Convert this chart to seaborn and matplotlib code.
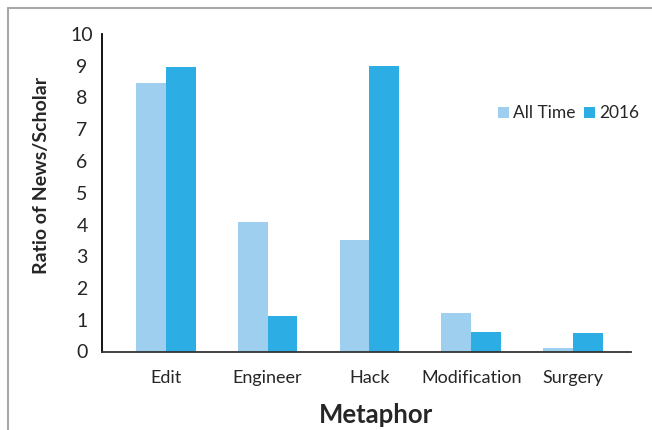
import pandas as pd
import matplotlib.pyplot as plt
import seaborn as sns
from matplotlib.lines import Line2D

# datos
categories = ['Edit', 'Engineer', 'Hack', 'Modification', 'Surgery']
all_time = [8.45, 4.08, 3.5, 1.2, 0.12]
y2016 = [8.95, 1.12, 8.98, 0.6, 0.57]
series = ['All Time', '2016']

df = pd.DataFrame({'Metaphor': categories * 2,
                   'Ratio': all_time + y2016,
                   'Serie': [series[0]] * 5 + [series[1]] * 5})

sns.set_style("white")
plt.rcParams['font.family'] = ['Lato', 'DejaVu Sans']

fig = plt.figure(figsize=(6.52, 4.30), dpi=100)
ax = fig.add_axes([102 / 652, 1 - 351.5 / 430, (630.7 - 102) / 652, (351.5 - 34) / 430])

sns.barplot(data=df, x='Metaphor', y='Ratio', hue='Serie', hue_order=series,
            palette=['#9FCFEF', '#2CADE3'], width=0.585, saturation=1,
            edgecolor='none', ax=ax)

ax.set_ylim(0, 10)
ax.set_xlim(-0.626, 4.567)
ax.set_yticks(range(11))
ax.tick_params(axis='y', labelsize=14, length=0, pad=14.4)
for t in ax.get_yticklabels():
    t.set_ha('center')
ax.tick_params(axis='x', labelsize=13, length=0, pad=13)
for s in ['top', 'right']:
    ax.spines[s].set_visible(False)
ax.spines['left'].set_color('black')
ax.spines['bottom'].set_color('#333333')
ax.spines['left'].set_linewidth(1.3)
ax.spines['bottom'].set_linewidth(1.3)

ax.set_ylabel('Ratio of News/Scholar', fontsize=14, fontweight='bold')
ax.yaxis.set_label_coords(-0.098, 0.556)
ax.set_xlabel('Metaphor', fontsize=18.5, fontweight='bold')
ax.xaxis.set_label_coords(0.519, -0.163)

ax.legend(loc='center left', bbox_to_anchor=(0.72, 0.75), ncol=2, frameon=False,
          fontsize=12.5, handlelength=0.6, handleheight=0.6, handletextpad=0.25,
          columnspacing=0.5)

# marco gris
fig.add_artist(Line2D([8 / 652, 8 / 652], [0, 1 - 7.5 / 430], color='#A8A8A8', lw=1.5))
fig.add_artist(Line2D([8 / 652, 1], [1 - 7.5 / 430, 1 - 7.5 / 430], color='#A8A8A8', lw=1.5))

fig.savefig('out.png', dpi=100)
